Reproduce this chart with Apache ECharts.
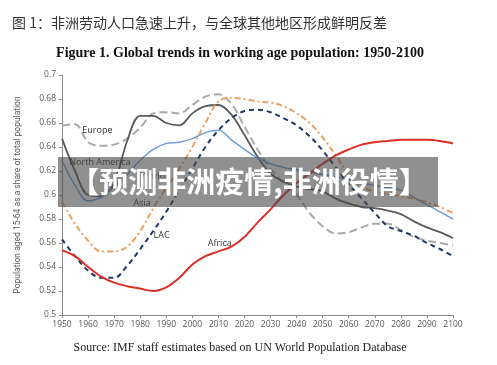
<!DOCTYPE html>
<html><head><meta charset="utf-8">
<script src="https://cdn.jsdelivr.net/npm/echarts@6/dist/echarts.min.js"></script>
<style>html,body{margin:0;padding:0;background:#fff}#c{width:497px;height:365px}</style>
</head><body><div id="c"></div>
<script>
const years = [1950,1955,1960,1965,1970,1975,1980,1985,1990,1995,2000,2005,2010,2015,2020,2025,2030,2035,2040,2045,2050,2055,2060,2065,2070,2075,2080,2085,2090,2095,2100];
const europe = [0.658,0.659,0.644,0.641,0.642,0.647,0.656,0.668,0.669,0.668,0.675,0.682,0.684,0.676,0.657,0.638,0.622,0.610,0.600,0.585,0.574,0.568,0.569,0.573,0.576,0.576,0.571,0.565,0.562,0.560,0.558];
const northAmerica = [0.647,0.620,0.600,0.599,0.610,0.645,0.666,0.666,0.660,0.658,0.668,0.674,0.675,0.667,0.650,0.632,0.618,0.611,0.607,0.605,0.603,0.597,0.593,0.590,0.589,0.587,0.584,0.578,0.573,0.569,0.564];
const world = [0.629,0.608,0.595,0.598,0.607,0.617,0.629,0.638,0.643,0.644,0.647,0.652,0.654,0.646,0.638,0.631,0.626,0.623,0.621,0.619,0.617,0.615,0.613,0.610,0.608,0.606,0.604,0.598,0.592,0.586,0.580];
const asia = [0.594,0.576,0.562,0.553,0.553,0.557,0.570,0.589,0.606,0.622,0.640,0.660,0.678,0.681,0.680,0.678,0.677,0.674,0.668,0.660,0.648,0.633,0.617,0.607,0.603,0.601,0.599,0.597,0.594,0.590,0.585];
const lac = [0.563,0.549,0.537,0.531,0.531,0.541,0.555,0.570,0.586,0.604,0.622,0.640,0.654,0.664,0.670,0.671,0.669,0.664,0.658,0.649,0.637,0.623,0.609,0.597,0.585,0.574,0.570,0.566,0.560,0.555,0.549];
const africa = [0.554,0.549,0.540,0.532,0.527,0.524,0.522,0.520,0.523,0.531,0.542,0.549,0.553,0.557,0.565,0.577,0.588,0.600,0.610,0.618,0.626,0.633,0.638,0.642,0.644,0.645,0.646,0.646,0.646,0.645,0.643];
const seriesLabels = [["Europe",1957.8,0.654],["North America",1952.8,0.627],["World",1980.0,0.6155],["Asia",1977.4,0.593],["LAC",1985.1,0.566],["Africa",2005.9,0.5594]];
const cnTitle = "图 1：非洲劳动人口急速上升，与全球其他地区形成鲜明反差";
const enTitle = "Figure 1. Global trends in working age population: 1950-2100";
const sourceText = "Source: IMF staff estimates based on UN World Population Database";
const yName = "Population aged 15-64 as a share of total population";
const overlayText = "【预测非洲疫情,非洲役情】";

const pair = arr => years.map((y,i)=>[y,arr[i]]);
const mk = (name, arr, color, width, type, z) => ({
  name, type:'line', data: pair(arr), smooth:0.35, symbol:'none', z,
  lineStyle:{color, width, type}
});
const chart = echarts.init(document.getElementById('c'), null, {renderer:'canvas'});
const option = {
  animation:false,
  grid:{left:62,right:44,top:75,bottom:50,containLabel:false},
  xAxis:{type:'value',min:1950,max:2100,interval:10,
    axisLine:{lineStyle:{color:'#8c8c8c'}},axisTick:{length:3,lineStyle:{color:'#8c8c8c'}},
    axisLabel:{color:'#595959',fontSize:8.5,fontFamily:'Open Sans',margin:5,showMinLabel:true,showMaxLabel:true,formatter:v=>String(v)},
    splitLine:{show:false}},
  yAxis:{type:'value',min:0.5,max:0.7,interval:0.02,
    name:yName,nameLocation:'middle',nameGap:40,nameRotate:90,
    nameTextStyle:{color:'#595959',fontSize:8.5,fontFamily:'Roboto'},
    axisLine:{show:true,lineStyle:{color:'#8c8c8c'}},axisTick:{show:true,length:3,lineStyle:{color:'#8c8c8c'}},
    axisLabel:{color:'#595959',fontSize:8.5,fontFamily:'Open Sans',margin:6,formatter:v=>String(+v.toFixed(2))},
    splitLine:{show:false}},
  series:[
    mk('Europe',europe,'#a9a9a9',2,[8,4],2),
    mk('North America',northAmerica,'#5a5a5a',1.8,'solid',3),
    mk('World',world,'#6f9fd4',1.5,'solid',3),
    mk('Asia',asia,'#e9a062',2,[6,3,2,3],4),
    mk('LAC',lac,'#1f3864',2,[5,4],5),
    mk('Africa',africa,'#dc2f2a',2,'solid',6)
  ]
};
chart.setOption(option);
const g = [];
seriesLabels.forEach(([t,x,y])=>{
  const p = chart.convertToPixel({gridIndex:0},[x,y]);
  g.push({type:'text',x:p[0],y:p[1],z:10,style:{text:t,fill:'#333',font:'9px "Open Sans"',textVerticalAlign:'middle',textAlign:'left'}});
});
g.push({type:'text',x:12,y:23,z:20,style:{text:cnTitle,fill:'#333',font:'14px "Noto Sans CJK SC"',textVerticalAlign:'middle',textAlign:'left'}});
g.push({type:'text',x:240,y:53,z:20,style:{text:enTitle,fill:'#111',font:'bold 14px "Liberation Serif"',textVerticalAlign:'middle',textAlign:'center'}});
g.push({type:'text',x:240,y:348,z:20,style:{text:sourceText,fill:'#222',font:'12px "Liberation Serif"',textVerticalAlign:'middle',textAlign:'center'}});
g.push({type:'rect',z:50,shape:{x:58,y:157,width:380,height:50},style:{fill:'rgba(70,70,70,0.6)'}});
g.push({type:'text',x:249,y:182,z:51,style:{text:overlayText,fill:'#fff',font:'bold 29px "Noto Sans CJK SC"',textVerticalAlign:'middle',textAlign:'center'}});
chart.setOption({graphic:g});
</script></body></html>
